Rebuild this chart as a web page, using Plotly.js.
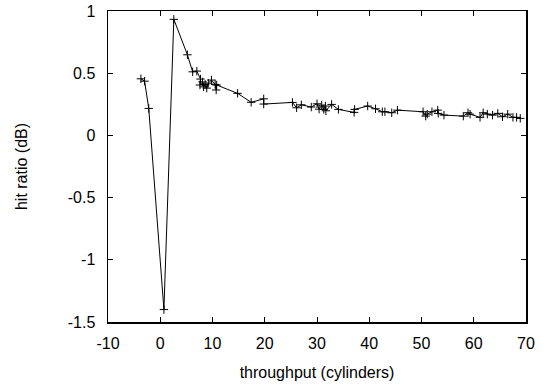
<!DOCTYPE html>
<html>
<head>
<meta charset="utf-8">
<script src="https://cdn.plot.ly/plotly-3.0.1.min.js"></script>
<style>body{margin:0;padding:0;background:#fff}</style>
</head>
<body>
<div id="chart" style="width:551px;height:389px"></div>
<script>
const throughput = [-3.7, -3.0, -2.2, 0.7, 2.6, 5.2, 6.2, 7.0, 7.7, 7.6, 8.1, 8.3, 8.6, 8.9, 9.2, 9.8, 10.5, 10.7, 10.8, 14.8, 17.4, 19.8, 19.8, 25.3, 26.1, 27.0, 28.9, 30.0, 30.4, 30.9, 31.3, 31.6, 31.7, 32.8, 34.1, 37.1, 37.2, 39.7, 41.2, 42.5, 43.0, 44.3, 45.4, 50.3, 50.8, 51.1, 52.0, 53.1, 53.2, 54.3, 58.0, 58.9, 59.3, 61.2, 61.8, 62.6, 63.6, 64.6, 65.5, 66.5, 67.5, 68.2, 68.9];
const hitRatio = [0.455, 0.436, 0.217, -1.40, 0.933, 0.648, 0.511, 0.517, 0.453, 0.405, 0.43, 0.39, 0.41, 0.38, 0.42, 0.445, 0.41, 0.365, 0.405, 0.338, 0.266, 0.294, 0.252, 0.265, 0.222, 0.246, 0.228, 0.254, 0.211, 0.244, 0.209, 0.236, 0.198, 0.249, 0.209, 0.185, 0.209, 0.236, 0.214, 0.19, 0.19, 0.182, 0.203, 0.19, 0.155, 0.171, 0.19, 0.203, 0.177, 0.163, 0.155, 0.182, 0.171, 0.145, 0.182, 0.171, 0.163, 0.177, 0.15, 0.171, 0.145, 0.145, 0.137];
const xTicks = [-10, 0, 10, 20, 30, 40, 50, 60, 70];
const yTicks = [-1.5, -1, -0.5, 0, 0.5, 1];

const font = {family: 'Liberation Sans, Arial, sans-serif', size: 16, color: '#000'};
const trace = {
  x: throughput, y: hitRatio,
  type: 'scatter', mode: 'lines+markers',
  line: {color: '#000', width: 1},
  marker: {symbol: 'cross-thin', size: 6, color: '#000', line: {color: '#000', width: 1}},
  showlegend: false
};
const axisBase = {
  showline: true, linecolor: '#000', linewidth: 1.5, mirror: 'allticks',
  ticks: 'inside', ticklen: 5, tickcolor: '#000', tickwidth: 1,
  showgrid: false, zeroline: false, tickfont: font
};
const layout = {
  width: 551, height: 389,
  margin: {l: 108, r: 25, t: 11, b: 67},
  paper_bgcolor: '#fff', plot_bgcolor: '#fff',
  font: font,
  xaxis: Object.assign({}, axisBase, {
    range: [-10, 70], tickmode: 'array', tickvals: xTicks, ticktext: xTicks.map(String),
    ticklabelstandoff: 6,
    title: {text: 'throughput (cylinders)', font: font, standoff: 16}
  }),
  yaxis: Object.assign({}, axisBase, {
    range: [-1.5, 1], tickmode: 'array', tickvals: yTicks, ticktext: yTicks.map(String),
    ticklabelstandoff: 8,
    title: {text: 'hit ratio (dB)', font: font, standoff: 36}
  })
};
Plotly.newPlot('chart', [trace], layout, {staticPlot: true, displayModeBar: false});
</script>
</body>
</html>
